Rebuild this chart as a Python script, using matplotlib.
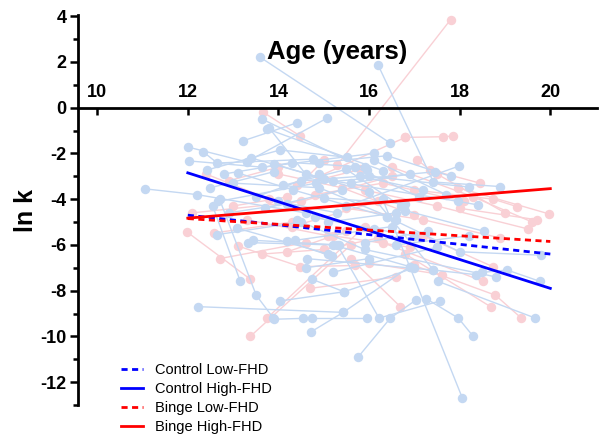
import matplotlib
matplotlib.use('Agg')
import matplotlib.pyplot as plt
from matplotlib.ticker import MultipleLocator

plt.rcParams['font.family'] = ['Liberation Sans', 'DejaVu Sans']
plt.rcParams['axes.unicode_minus'] = False

# individual control subjects (age, ln k)
control_ages = [
    [11.06, 12.2, 14.6], [13.6, 16.47], [16.2, 17.42, 18.9], [12.0, 13.3, 15.08],
    [12.03, 13.64, 16.1], [12.34, 12.65, 14.77], [12.43, 14.04, 15.52], [13.22, 14.4],
    [13.64, 15.96], [13.75, 16.3], [13.11, 14.33, 16.4], [12.67, 14.83, 17.46],
    [12.23, 15.43], [12.55, 13.16], [12.7, 13.51, 13.89], [15.76, 16.47, 17.04],
    [13.91, 14.75], [14.04, 15.45, 17.0], [14.72, 15.43, 16.9], [14.55, 15.96],
    [15.3, 16.22, 17.57], [17.26, 17.97, 18.3], [16.3, 18.06], [18.5, 19.05, 19.78],
    [17.53, 19.67], [16.4, 18.0, 19.8], [14.63, 17.42, 18.35], [14.74, 15.45],
    [13.33, 15.2, 16.9], [13.45, 15.34], [14.2, 15.19], [14.37, 16.5],
    [13.09, 15.1], [12.65, 14.5], [15.5, 17.99], [16.0, 18.2],
    [15.2, 17.97, 18.4], [16.8, 18.53], [15.0, 16.8], [13.8, 14.6],
    [13.9, 16.0, 17.42], [14.5, 15.8, 17.2], [14.0, 15.3], [14.8, 16.1, 17.0],
    [15.5, 16.7], [13.0, 14.9, 16.6], [15.9, 17.3], [12.9, 14.2],
    [16.6, 18.2], [14.6, 16.0], [15.2, 17.5], [13.5, 14.9],
    [12.8, 14.3, 15.9], [13.4, 15.0], [14.9, 16.4, 17.8], [15.6, 16.9],
    [12.5, 13.9], [14.1, 15.7, 17.1], [16.1, 17.7], [13.7, 15.4],
    [15.1, 16.6], [14.4, 15.9, 18.8],
]
control_lnk = [
    [-3.55, -3.8, -4.6], [2.2, -1.55], [1.86, -3.25, -3.45], [-1.72, -2.37, -0.45],
    [-2.33, -2.6, -2.0], [-1.93, -2.42, -2.25], [-2.72, -1.85, -2.17], [-1.45, -0.67],
    [-0.5, -2.72], [-0.93, -2.75], [-2.86, -3.6, -4.77], [-4.1, -3.3, -2.8],
    [-8.7, -8.95], [-4.3, -7.6], [-4.0, -8.2, -9.2], [-10.9, -9.2, -8.4],
    [-9.25, -9.2], [-8.45, -8.05, -7.0], [-9.8, -8.95, -6.95], [-9.2, -9.2],
    [-6.0, -9.2, -8.45], [-8.35, -9.2, -10.0], [-4.0, -12.7], [-7.2, -7.1, -7.6],
    [-7.6, -9.2], [-4.77, -6.3, -6.45], [-6.6, -7.1, -7.3], [-7.5, -8.05],
    [-5.9, -6.0, -6.95], [-5.8, -6.0], [-5.85, -6.5], [-5.8, -5.2],
    [-5.27, -6.4], [-5.55, -5.0], [-4.3, -2.55], [-3.0, -3.47],
    [-3.2, -4.1, -4.25], [-4.5, -5.4], [-3.95, -4.2], [-0.9, -2.9],
    [-2.46, -3.7, -7.1], [-3.2, -3.0, -3.6], [-4.1, -4.6], [-4.8, -5.3, -5.6],
    [-2.7, -4.3], [-3.3, -3.5, -4.9], [-5.9, -5.4], [-4.6, -4.2],
    [-6.0, -5.6], [-7.0, -6.6], [-7.2, -6.1], [-3.9, -2.9],
    [-2.9, -2.4, -2.6], [-2.2, -3.1], [-2.4, -2.1, -3.0], [-3.3, -2.9],
    [-3.5, -2.8], [-3.4, -2.6, -3.9], [-2.3, -3.8], [-4.4, -3.6],
    [-5.0, -4.6], [-4.9, -6.2, -7.4],
]

# individual binge subjects (age, ln k)
binge_ages = [
    [15.3, 17.8], [13.66, 14.48], [16.8, 17.64, 17.86], [17.06, 17.35, 18.45],
    [17.0, 18.74, 19.27], [17.97, 19.98], [18.0, 19.7], [12.57, 14.3],
    [11.98, 13.38], [13.11, 14.48, 15.7], [13.64, 15.0, 16.2], [13.38, 15.6],
    [13.75, 15.9], [15.6, 16.69], [16.8, 18.68], [17.0, 18.79, 19.36],
    [16.3, 18.52], [17.2, 18.73], [13.0, 14.2, 15.0], [12.1, 14.5, 16.5],
    [14.0, 15.4, 17.0], [14.3, 16.2], [14.9, 16.8], [15.5, 17.2, 18.9],
    [16.0, 17.6], [14.7, 16.6], [12.9, 14.0], [15.9, 17.5, 19.5],
    [14.2, 15.5], [17.5, 19.0], [12.4, 13.8],
    [14.8, 16.3, 18.1], [13.3, 15.1], [15.2, 16.9], [16.5, 18.3, 19.6],
    [14.4, 15.8], [12.7, 14.6],
]
binge_lnk = [
    [-2.5, 3.85], [-0.19, -1.24], [-1.3, -1.27, -1.24], [-2.28, -2.72, -3.3],
    [-3.6, -4.0, -4.33], [-3.5, -4.65], [-4.4, -4.9], [-5.48, -5.0],
    [-5.43, -7.5], [-6.05, -6.95, -6.9], [-6.4, -6.2, -5.7], [-10.0, -6.0],
    [-9.2, -5.2], [-6.6, -8.7], [-6.4, -8.7], [-6.9, -8.2, -9.2],
    [-5.9, -7.6], [-5.6, -6.95], [-4.3, -3.9, -2.3], [-4.6, -4.1, -3.0],
    [-2.9, -3.5, -4.7], [-5.2, -4.1], [-3.0, -1.3], [-4.4, -4.9, -5.7],
    [-6.8, -7.3], [-7.9, -7.4], [-3.2, -2.6], [-3.6, -4.3, -5.3],
    [-6.3, -5.4], [-2.9, -4.6], [-2.9, -4.0],
    [-3.8, -3.3, -4.1], [-4.9, -5.6], [-5.6, -6.1], [-2.6, -3.9, -5.0],
    [-3.4, -2.7], [-6.6, -5.9],
]

# group regression lines
fit_ages = [12, 20]
fit_labels = ['Control Low-FHD', 'Control High-FHD', 'Binge Low-FHD', 'Binge High-FHD']
fit_lnk = [[-4.7, -6.4], [-2.85, -7.9], [-4.85, -5.85], [-4.83, -3.54]]
fit_colors = ['#0000ff', '#0000ff', '#ff0000', '#ff0000']
fit_dashed = [True, False, True, False]

fig = plt.figure(figsize=(6.04, 4.46), dpi=100)
ax = fig.add_axes([0.1286, 0.0919, 0.8598, 0.8744])

for a, k in zip(binge_ages, binge_lnk):
    ax.plot(a, k, color='#f9d0d5', lw=1.0, marker='o', ms=6.8, mec='none', zorder=1)
for a, k in zip(control_ages, control_lnk):
    ax.plot(a, k, color='#c4d8f2', lw=1.0, marker='o', ms=6.8, mec='none', zorder=2)

for lab, k, c, d in zip(fit_labels, fit_lnk, fit_colors, fit_dashed):
    ls = (0, (2.2, 1.6)) if d else '-'
    ax.plot(fit_ages, k, color=c, lw=2.0, ls=ls, label=lab, zorder=5)

ax.set_xlim(9.57, 21.03)
ax.set_ylim(-13, 4.05)

# x axis drawn through y=0, labels above, ticks pointing down
ax.spines['bottom'].set_visible(False)
ax.spines['right'].set_visible(False)
ax.spines['top'].set_position(('data', 0))
ax.spines['top'].set_linewidth(2.0)
ax.spines['left'].set_linewidth(2.0)
ax.xaxis.tick_top()
ax.set_xticks([10, 12, 14, 16, 18, 20])
ax.tick_params(axis='x', direction='in', length=5, width=1.8, pad=5, labelsize=13)
ax.xaxis.set_label_position('top')
ax.set_xlabel('Age (years)', fontsize=18.5, fontweight='bold', labelpad=18)

ax.set_yticks(range(-12, 5, 2))
ax.yaxis.set_minor_locator(MultipleLocator(1))
ax.tick_params(axis='y', which='major', length=6, width=1.8, pad=2, labelsize=13)
ax.tick_params(axis='y', which='minor', length=3.5, width=1.8)
ax.set_ylabel('ln k', fontsize=18, fontweight='bold', labelpad=2)

for t in ax.get_xticklabels() + ax.get_yticklabels():
    t.set_fontweight('bold')

ax.legend(loc='upper left', bbox_to_anchor=(108 / 604, 1 - 350 / 446),
          bbox_transform=fig.transFigure, frameon=False, fontsize=10.5,
          handlelength=1.5, handletextpad=0.8, labelspacing=0.35)

fig.savefig('out.png', dpi=100)
